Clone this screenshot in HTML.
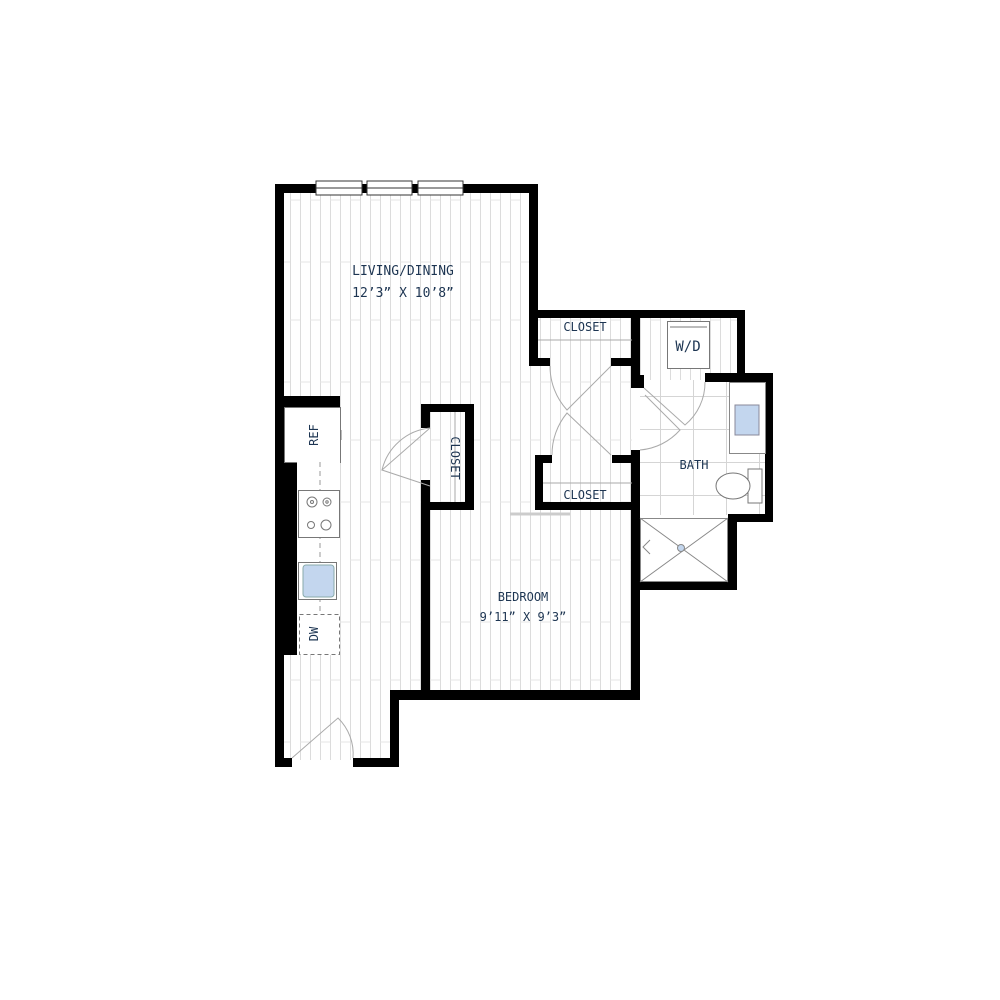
<!DOCTYPE html>
<html><head><style>body{margin:0;background:#fff}svg{display:block}</style></head><body>
<svg width="1000" height="1000" viewBox="0 0 1000 1000" xmlns="http://www.w3.org/2000/svg" font-family="'DejaVu Sans Mono','Liberation Mono',monospace">
<defs>
<pattern id="pl" width="20" height="120" patternUnits="userSpaceOnUse">
<rect width="20" height="120" fill="#fff"/>
<line x1="0.5" y1="0" x2="0.5" y2="120" stroke="#dcdcdc" stroke-width="1"/>
<line x1="10.5" y1="0" x2="10.5" y2="120" stroke="#dcdcdc" stroke-width="1"/>
<line x1="0" y1="22" x2="10" y2="22" stroke="#e4e4e4" stroke-width="1"/>
<line x1="10" y1="80" x2="20" y2="80" stroke="#e4e4e4" stroke-width="1"/>
</pattern>
<pattern id="tile" width="33" height="33" patternUnits="userSpaceOnUse">
<rect width="33" height="33" fill="#fff"/>
<path d="M0 0.5H33M0.5 0V33" stroke="#d5d5d5" stroke-width="1"/>
</pattern>
</defs>
<path d="M284 193H530V318H632V510H632V692H399V760H284Z" fill="url(#pl)"/>
<rect x="640" y="318" width="98" height="62" fill="url(#pl)"/>
<rect x="640" y="380" width="126" height="135" fill="url(#tile)"/>
<g fill="#000">
<rect x="275" y="184" width="263" height="9"/>
<rect x="275" y="184" width="9" height="583"/>
<rect x="529" y="184" width="9" height="134"/>
<rect x="529" y="310" width="216" height="8"/>
<rect x="737" y="310" width="8" height="72"/>
<rect x="705" y="373" width="68" height="9"/>
<rect x="765" y="373" width="8" height="149"/>
<rect x="728" y="514" width="45" height="8"/>
<rect x="728" y="514" width="9" height="76"/>
<rect x="631" y="582" width="106" height="8"/>
<rect x="631" y="450" width="9" height="250"/>
<rect x="631" y="310" width="9" height="78"/>
<rect x="640" y="375" width="4" height="13"/>
<rect x="390" y="690" width="250" height="10"/>
<rect x="390" y="690" width="9" height="77"/>
<rect x="353" y="758" width="46" height="9"/>
<rect x="275" y="758" width="17" height="9"/>
<rect x="529" y="310" width="9" height="56"/>
<rect x="529" y="358" width="21" height="8"/>
<rect x="611" y="358" width="25" height="8"/>
<rect x="535" y="455" width="17" height="8"/>
<rect x="535" y="455" width="8" height="55"/>
<rect x="535" y="502" width="100" height="8"/>
<rect x="612" y="455" width="22" height="8"/>
<rect x="421" y="404" width="53" height="8"/>
<rect x="421" y="404" width="9" height="24"/>
<rect x="421" y="480" width="9" height="220"/>
<rect x="465" y="404" width="9" height="106"/>
<rect x="421" y="502" width="53" height="8"/>
<rect x="284" y="396" width="56" height="11"/>
<rect x="275" y="462" width="22" height="193"/>
</g>
<g fill="#fff" stroke="#333" stroke-width="1">
<rect x="316" y="181" width="46" height="14"/><line x1="316" y1="188" x2="362" y2="188"/>
<rect x="367" y="181" width="45" height="14"/><line x1="367" y1="188" x2="412" y2="188"/>
<rect x="418" y="181" width="45" height="14"/><line x1="418" y1="188" x2="463" y2="188"/>
</g>
<g stroke="#777" stroke-width="1" fill="#fff">
<rect x="284.5" y="407.5" width="56" height="55"/>
<rect x="297" y="462" width="43" height="193" fill="#fff" stroke="none"/>
<line x1="320" y1="462" x2="320" y2="655" stroke-dasharray="5,4" stroke="#999"/>
<rect x="298.5" y="490.5" width="41" height="47" fill="#fff"/>
<circle cx="312" cy="502" r="5"/><circle cx="312" cy="502" r="1.5"/>
<circle cx="327" cy="502" r="4"/><circle cx="327" cy="502" r="1.2"/>
<circle cx="311" cy="525" r="3.5"/><circle cx="326" cy="525" r="5"/>
<rect x="298.5" y="562.5" width="38" height="37"/>
<rect x="303" y="565" width="31" height="32" rx="3" fill="#c3d6ee" stroke="#8aa"/>
<rect x="299.5" y="614.5" width="40" height="40" stroke-dasharray="4,3"/>
<line x1="341" y1="430" x2="341" y2="440"/>
</g>
<g fill="none" stroke="#aaa" stroke-width="1">
<path d="M430 428L382 470L430 486"/>
<path d="M382 470A55 55 0 0 1 430 428" />
<line x1="455" y1="412" x2="455" y2="502"/>
<line x1="538" y1="340" x2="632" y2="340"/>
<line x1="543" y1="483" x2="632" y2="483"/>
<path d="M550 366A65 65 0 0 0 567 410L611 366"/>
<path d="M552 455A65 65 0 0 1 567 413L611 455"/>
<path d="M644 388L685 425A55 55 0 0 0 705 382"/>
<path d="M640 450A60 60 0 0 0 680 430L645 395"/>
<line x1="510" y1="514" x2="570" y2="514" stroke-width="3" stroke="#ccc"/>
<path d="M292 758L338 718A50 50 0 0 1 353 758"/>
<path d="M640 518L728 582M728 518L640 582" stroke="#888"/>
<rect x="640.5" y="518.5" width="87" height="63" stroke="#888"/>
<path d="M650 540L643 547L650 554" stroke="#888"/>
</g>
<circle cx="681" cy="548" r="3.5" fill="#c3d6ee" stroke="#888"/>
<rect x="667.5" y="321.5" width="42" height="47" fill="#fff" stroke="#777"/>
<line x1="670" y1="327" x2="707" y2="327" stroke="#777"/>
<rect x="729.5" y="382.5" width="36" height="71" fill="#fff" stroke="#888"/>
<rect x="735" y="405" width="24" height="30" fill="#c3d6ee" stroke="#889"/>
<rect x="748" y="469" width="14" height="34" fill="#fff" stroke="#777"/>
<ellipse cx="733" cy="486" rx="17" ry="13" fill="#fff" stroke="#777"/>
<g fill="#1d3552" font-size="13" text-anchor="middle">
<text x="403" y="275">LIVING/DINING</text>
<text x="403" y="297">12’3” X 10’8”</text>
<text x="585" y="331" font-size="12">CLOSET</text>
<text x="585" y="499" font-size="12">CLOSET</text>
<text x="688" y="351" font-size="14">W/D</text>
<text x="694" y="469" font-size="12">BATH</text>
<text x="523" y="601" font-size="12">BEDROOM</text>
<text x="523" y="621" font-size="12">9’11” X 9’3”</text>
<text transform="translate(318,435) rotate(-90)" font-size="12">REF</text>
<text transform="translate(318,634) rotate(-90)" font-size="12">DW</text>
<text transform="translate(451,458) rotate(90)" font-size="12">CLOSET</text>
</g>
</svg>
</body></html>
